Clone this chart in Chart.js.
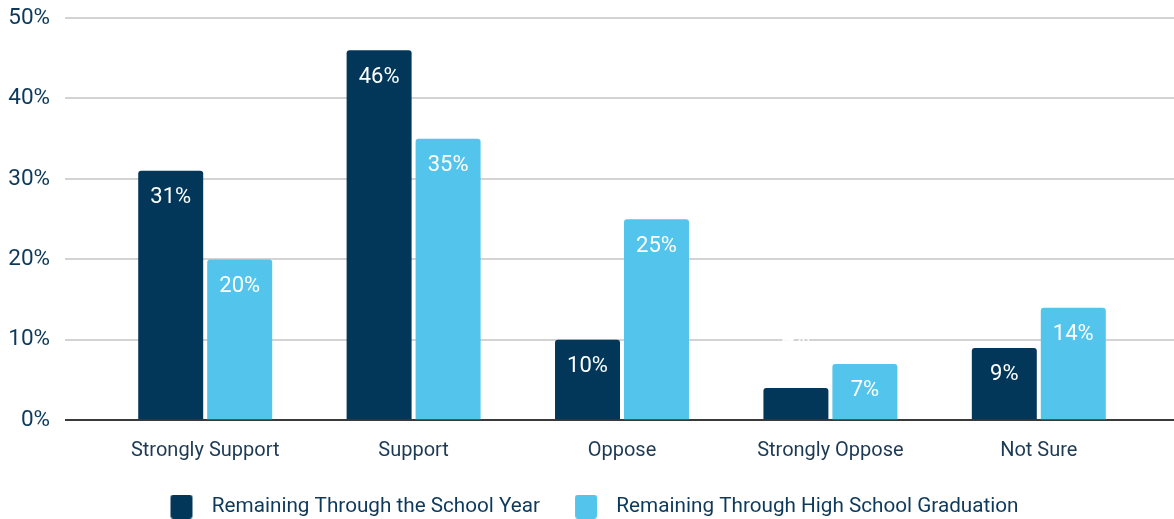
<!DOCTYPE html>
<html>
<head>
<meta charset="utf-8">
<script src="https://cdn.jsdelivr.net/npm/chart.js@4.4.1/dist/chart.umd.min.js"></script>
<style>
  html, body { margin: 0; padding: 0; background: #fff; }
  #wrap { width: 1174px; height: 519px; }
</style>
</head>
<body>
<div id="wrap"><canvas id="grafico"></canvas></div>
<script>
const categorias = ["Strongly Support", "Support", "Oppose", "Strongly Oppose", "Not Sure"];
const anoLetivo = [31, 46, 10, 4, 9];
const ateFormatura = [20, 35, 25, 7, 14];
const nomesSeries = ["Remaining Through the School Year", "Remaining Through High School Graduation"];
const coresSeries = ["#023759", "#53c4eb"];
const ticksY = [0, 10, 20, 30, 40, 50];

const FONTE = "Roboto, 'Liberation Sans', sans-serif";

// quadradinho da legenda, desenhado num canvas com espaço à esquerda
function criarAmostra(cor) {
    const c = document.createElement("canvas");
    c.width = 62;
    c.height = 24;
    const g = c.getContext("2d");
    g.fillStyle = cor;
    g.beginPath();
    g.roundRect(31, 0, 22, 24, 3);
    g.fill();
    return c;
}
const amostras = coresSeries.map(criarAmostra);

// rótulos de valor dentro das barras
const rotulosValores = {
    id: "rotulosValores",
    afterDatasetsDraw(chart) {
        const ctx = chart.ctx;
        ctx.save();
        ctx.font = "22px " + FONTE;
        ctx.fillStyle = "#ffffff";
        ctx.textAlign = "center";
        ctx.textBaseline = "middle";
        chart.data.datasets.forEach((ds, i) => {
            chart.getDatasetMeta(i).data.forEach((bar, j) => {
                const altura = bar.base - bar.y;
                const y = altura > 45 ? bar.y + 27 : bar.y - 50;
                ctx.fillText(ds.data[j] + "%", bar.x, y);
            });
        });
        ctx.restore();
    }
};

const corGrade = ctx => ctx.tick && ctx.tick.value === 0 ? "#3a3a3a" : "#d3d3d3";

new Chart(document.getElementById("grafico").getContext("2d"), {
    type: "bar",
    data: {
        labels: categorias,
        datasets: [{
            label: nomesSeries[0],
            data: anoLetivo,
            backgroundColor: coresSeries[0],
            borderRadius: 3
        }, {
            label: nomesSeries[1],
            data: ateFormatura,
            backgroundColor: coresSeries[1],
            borderRadius: 3
        }]
    },
    options: {
        responsive: true,
        maintainAspectRatio: false,
        animation: false,
        categoryPercentage: 0.662,
        barPercentage: 0.942,
        layout: { padding: { top: 18, left: 0, right: 16, bottom: -8 } },
        plugins: {
            tooltip: { enabled: false },
            legend: {
                position: "bottom",
                labels: {
                    usePointStyle: true,
                    pointStyleWidth: 62,
                    boxHeight: 20,
                    padding: 4,
                    color: "#0d3a5c",
                    font: { family: FONTE, size: 20.7 },
                    generateLabels(chart) {
                        return Chart.defaults.plugins.legend.labels.generateLabels(chart)
                            .map((item, i) => Object.assign(item, { pointStyle: amostras[i] }));
                    }
                }
            }
        },
        scales: {
            x: {
                grid: { display: false, drawTicks: false },
                border: { display: true, color: "#3a3a3a", width: 2 },
                ticks: {
                    padding: 19,
                    color: "#1d3a55",
                    font: { family: FONTE, size: 20 }
                },
                afterFit(scale) { scale.height = 72; }
            },
            y: {
                min: 0,
                max: 50,
                afterBuildTicks(scale) { scale.ticks = ticksY.map(v => ({ value: v })); },
                border: { display: false },
                grid: {
                    color: corGrade,
                    lineWidth: 2,
                    tickLength: 36,
                    tickColor: corGrade
                },
                ticks: {
                    padding: 15,
                    color: "#0d3a5c",
                    font: { family: FONTE, size: 22.5 },
                    callback: v => v + "%"
                },
                afterFit(scale) {
                    scale.width = 101;
                    scale.paddingTop = 0;
                    scale.paddingBottom = 0;
                }
            },
            y2: {
                position: "right",
                min: 0,
                max: 50,
                afterBuildTicks(scale) { scale.ticks = ticksY.map(v => ({ value: v })); },
                border: { display: false },
                grid: {
                    drawOnChartArea: false,
                    lineWidth: 2,
                    tickLength: 31,
                    tickColor: corGrade
                },
                ticks: { display: false },
                afterFit(scale) { scale.width = 15; }
            }
        }
    },
    plugins: [rotulosValores]
});
</script>
</body>
</html>
